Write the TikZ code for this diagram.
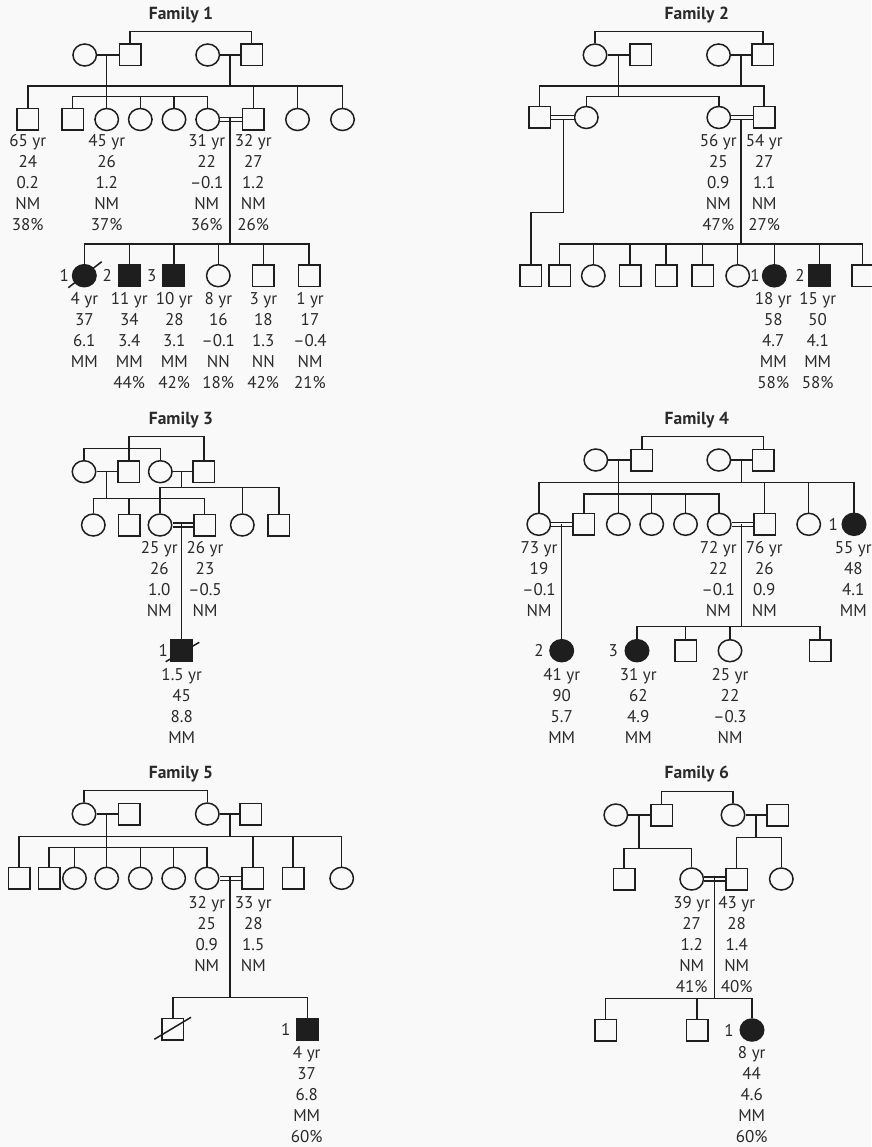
\documentclass[tikz,border=0pt]{standalone}
\usepackage{fontspec}
\setmainfont{PT Sans}
\usetikzlibrary{shapes.geometric,calc}
\definecolor{ink}{HTML}{1E1E1E}
\definecolor{textink}{HTML}{2A2A2A}
\definecolor{paper}{HTML}{F9F9F9}
\tikzset{
  pl/.style={line width=1.5pt, draw=ink},
  mal/.style={pl, rectangle, minimum size=21.5pt, inner sep=0pt},
  fem/.style={pl, ellipse, minimum width=23.5pt, minimum height=22pt, inner sep=0pt},
  aff/.style={fill=ink},
  txt/.style={font=\fontsize{17}{20}\selectfont, text=textink, inner sep=0pt},
  ttl/.style={font=\fontsize{17.5}{20}\selectfont\bfseries, text=textink, inner sep=0pt, anchor=base},
  marr/.style={draw=ink, line width=1.3pt, double=paper, double distance=2.8pt},
}
% column of measurements under an individual
\newcommand\info[4]{\foreach \t [count=\i from 0] in {#4}{\node[txt,anchor=base] (#1d\i) at (#2,{#3+21*\i}) {\t};}}
% vertical drop from a child to its sibship line
\newcommand\drop[2]{\draw[pl] (#1.north) -- (#1.north |- #2);}
\begin{document}
\begin{tikzpicture}[x=1pt,y=-1pt]
\useasboundingbox (0,0) rectangle (871,1147);
\fill[paper] (0,0) rectangle (871,1147);

%% ---------------- Family 1 ----------------
\node[ttl] (t1) at (181,19.3) {Family 1};
\node[fem] (f1a) at (84.7,55) {};
\node[mal] (f1b) at (130,55) {};
\node[fem] (f1c) at (207.7,55) {};
\node[mal] (f1d) at (251.7,55) {};
\draw[pl] (f1a) -- (f1b);
\draw[pl] (f1c) -- (f1d);
\coordinate (f1top) at (190,31.7);
\draw[pl] (f1b.north) |- (f1top) -| (f1d.north);
\node[mal] (f1e) at (27.8,119.5) {};
\node[mal] (f1f) at (72.7,119.5) {};
\node[fem] (f1g) at (106.7,119.5) {};
\node[fem] (f1h) at (140.3,119.5) {};
\node[fem] (f1i) at (174,119.5) {};
\node[fem] (f1j) at (207.7,119.5) {};
\node[mal] (f1k) at (253.3,119.5) {};
\node[fem] (f1l) at (297.5,119.5) {};
\node[fem] (f1m) at (342.5,119.5) {};
\coordinate (f1ab) at (106.7,55);
\coordinate (f1s1) at (106.7,96.7);
\draw[pl] (f1ab) -- (f1g.north);
\draw[pl] (f1f.north) |- (f1s1) -| (f1j.north);
\drop{f1h}{f1s1} \drop{f1i}{f1s1}
\coordinate (f1cd) at (230,55);
\coordinate (f1s2) at (230,86);
\draw[pl] (f1cd) -- (f1s2);
\draw[pl] (f1e.north) |- (f1s2) -| (f1m.north);
\drop{f1k}{f1s2} \drop{f1l}{f1s2}
\draw[marr] (f1j) -- (f1k);
\coordinate (f1jk) at (230,117.5);
\coordinate (f1s3) at (230,244);
\draw[pl] (f1jk) -- (f1s3);
\node[fem,aff] (f1n) at (84.3,275.7) {};
\node[mal,aff] (f1o) at (129.3,275.7) {};
\node[mal,aff] (f1p) at (173.8,275.7) {};
\node[fem] (f1q) at (218.3,275.7) {};
\node[mal] (f1r) at (263.3,275.7) {};
\node[mal] (f1s) at (309,275.7) {};
\draw[pl] (f1n.north) |- (f1s3) -| (f1s.north);
\drop{f1o}{f1s3} \drop{f1p}{f1s3} \drop{f1q}{f1s3} \drop{f1r}{f1s3}
\draw[pl] ($(f1n)+(-16,12)$) -- ($(f1n)+(17.4,-14)$);
\node[txt] (f1no1) at (64.3,275.7) {1};
\node[txt] (f1no2) at (107.3,275.7) {2};
\node[txt] (f1no3) at (151.7,275.7) {3};
\info{f1e}{27.8}{146.7}{65 yr,24,0.2,NM,38\%}
\info{f1g}{106.7}{146.7}{45 yr,26,1.2,NM,37\%}
\info{f1j}{206.7}{146.7}{31 yr,22,–0.1,NM,36\%}
\info{f1k}{253.3}{146.7}{32 yr,27,1.2,NM,26\%}
\info{f1n}{84.3}{304}{4 yr,37,6.1,MM}
\info{f1o}{129.3}{304}{11 yr,34,3.4,MM,44\%}
\info{f1p}{174.3}{304}{10 yr,28,3.1,MM,42\%}
\info{f1q}{218.3}{304}{8 yr,16,–0.1,NN,18\%}
\info{f1r}{263.3}{304}{3 yr,18,1.3,NN,42\%}
\info{f1s}{310}{304}{1 yr,17,–0.4,NM,21\%}

%% ---------------- Family 2 ----------------
\node[ttl] (t2) at (696.8,19.3) {Family 2};
\node[fem] (f2a) at (595,55) {};
\node[mal] (f2b) at (640.8,55) {};
\node[fem] (f2c) at (718.5,55) {};
\node[mal] (f2d) at (762.8,55) {};
\draw[pl] (f2a) -- (f2b);
\draw[pl] (f2c) -- (f2d);
\coordinate (f2top) at (680,31.7);
\draw[pl] (f2a.north) |- (f2top) -| (f2d.north);
\node[mal] (f2e) at (539.5,117.5) {};
\node[fem] (f2f) at (586.3,117.5) {};
\node[fem] (f2g) at (718.8,117.5) {};
\node[mal] (f2h) at (764.2,117.5) {};
\coordinate (f2ab) at (618.3,55);
\coordinate (f2s1) at (618.3,96.7);
\draw[pl] (f2ab) -- (f2s1);
\draw[pl] (f2f.north) |- (f2s1) -| (f2g.north);
\coordinate (f2cd) at (741,55);
\coordinate (f2s2) at (741,86);
\draw[pl] (f2cd) -- (f2s2);
\draw[pl] (f2e.north) |- (f2s2) -| (f2h.north);
\draw[marr] (f2e) -- (f2f);
\draw[marr] (f2g) -- (f2h);
\node[mal] (f2i) at (530.8,275.8) {};
\node[mal] (f2j) at (559.7,275.8) {};
\node[fem] (f2k) at (593.3,275.8) {};
\node[mal] (f2l) at (630,275.8) {};
\node[mal] (f2m) at (666,275.8) {};
\node[mal] (f2n) at (702.7,275.8) {};
\node[fem] (f2o) at (737.7,275.8) {};
\node[fem,aff] (f2p) at (774.3,275.8) {};
\node[mal,aff] (f2q) at (819.3,275.8) {};
\node[mal] (f2r) at (862.7,275.8) {};
\coordinate (f2ef) at (563.3,119);
\coordinate (f2bend) at (563.3,212.3);
\draw[pl] (f2ef) -- (f2bend) -| (f2i.north);
\coordinate (f2gh) at (741,119);
\coordinate (f2s3) at (741,244);
\draw[pl] (f2gh) -- (f2s3);
\draw[pl] (f2j.north) |- (f2s3) -| (f2r.north);
\drop{f2k}{f2s3} \drop{f2l}{f2s3} \drop{f2m}{f2s3} \drop{f2n}{f2s3}
\drop{f2o}{f2s3} \drop{f2p}{f2s3} \drop{f2q}{f2s3}
\node[txt] (f2no1) at (755,275.8) {1};
\node[txt] (f2no2) at (800,275.8) {2};
\info{f2g}{718.3}{146.7}{56 yr,25,0.9,NM,47\%}
\info{f2h}{764.2}{146.7}{54 yr,27,1.1,NM,27\%}
\info{f2p}{773.3}{304}{18 yr,58,4.7,MM,58\%}
\info{f2q}{817.7}{304}{15 yr,50,4.1,MM,58\%}

%% ---------------- Family 3 ----------------
\node[ttl] (t3) at (181,424) {Family 3};
\node[fem] (f3a) at (84,471.7) {};
\node[mal] (f3b) at (128.8,471.7) {};
\node[fem] (f3c) at (160.3,471.7) {};
\node[mal] (f3d) at (203.8,471.7) {};
\draw[pl] (f3a) -- (f3b);
\draw[pl] (f3c) -- (f3d);
\coordinate (f3t1) at (120,448.3);
\coordinate (f3t2) at (166,436.7);
\draw[pl] (f3a.north) |- (f3t1) -| (f3c.north);
\draw[pl] (f3b.north) |- (f3t2) -| (f3d.north);
\node[fem] (f3e) at (93.3,525) {};
\node[mal] (f3f) at (129.2,525) {};
\node[fem] (f3g) at (160,525) {};
\node[mal] (f3h) at (204.5,525) {};
\node[fem] (f3i) at (242.3,525) {};
\node[mal] (f3j) at (278.8,525) {};
\coordinate (f3ab) at (106.7,471.7);
\coordinate (f3s1) at (106.7,498.3);
\draw[pl] (f3ab) -- (f3s1);
\draw[pl] (f3e.north) |- (f3s1) -| (f3h.north);
\drop{f3f}{f3s1}
\coordinate (f3cd) at (181.7,471.7);
\coordinate (f3s2) at (181.7,487.3);
\draw[pl] (f3cd) -- (f3s2);
\draw[pl] (f3g.north) |- (f3s2) -| (f3j.north);
\drop{f3i}{f3s2}
\draw[marr] (f3g) -- (f3h);
\node[mal,aff] (f3k) at (181.7,650.7) {};
\coordinate (f3gh) at (181.7,524);
\draw[pl] (f3gh) -- (f3k.north);
\draw[pl] ($(f3k)+(-16,11)$) -- ($(f3k)+(17.6,-8.4)$);
\node[txt] (f3no1) at (163.3,650.7) {1};
\info{f3g}{159.3}{553.3}{25 yr,26,1.0,NM}
\info{f3h}{205}{553.3}{26 yr,23,–0.5,NM}
\info{f3k}{181.7}{680}{1.5 yr,45,8.8,MM}

%% ---------------- Family 4 ----------------
\node[ttl] (t4) at (696.8,424) {Family 4};
\node[fem] (f4a) at (595.8,460) {};
\node[mal] (f4b) at (641.8,460) {};
\node[fem] (f4c) at (718.8,460) {};
\node[mal] (f4d) at (763.3,460) {};
\draw[pl] (f4a) -- (f4b);
\draw[pl] (f4c) -- (f4d);
\coordinate (f4top) at (700,436.7);
\draw[pl] (f4b.north) |- (f4top) -| (f4d.north);
\node[fem] (f4e) at (538.8,524.3) {};
\node[mal] (f4f) at (583.8,524.3) {};
\node[fem] (f4g) at (618.3,524.3) {};
\node[fem] (f4h) at (651.7,524.3) {};
\node[fem] (f4i) at (685.5,524.3) {};
\node[fem] (f4j) at (719.2,524.3) {};
\node[mal] (f4k) at (764.5,524.3) {};
\node[fem] (f4l) at (808.7,524.3) {};
\node[fem,aff] (f4m) at (854,524.3) {};
\coordinate (f4ab) at (618.3,460);
\coordinate (f4s1) at (618.3,494);
\draw[pl] (f4ab) -- (f4g.north);
\draw[pl] (f4f.north) |- (f4s1) -| (f4j.north);
\drop{f4h}{f4s1} \drop{f4i}{f4s1}
\coordinate (f4cd) at (741.7,460);
\coordinate (f4s2) at (741.7,482.7);
\draw[pl] (f4cd) -- (f4s2);
\draw[pl] (f4e.north) |- (f4s2) -| (f4m.north);
\drop{f4k}{f4s2} \drop{f4l}{f4s2}
\draw[marr] (f4e) -- (f4f);
\draw[marr] (f4j) -- (f4k);
\node[fem,aff] (f4n) at (561.7,650.7) {};
\node[fem,aff] (f4o) at (637,650.7) {};
\node[mal] (f4p) at (685.5,650.7) {};
\node[fem] (f4q) at (730,650.7) {};
\node[mal] (f4r) at (820,650.7) {};
\coordinate (f4ef) at (561.7,524.3);
\draw[pl] (f4ef) -- (f4n.north);
\coordinate (f4jk) at (741.7,524.3);
\coordinate (f4s3) at (741.7,626.7);
\draw[pl] (f4jk) -- (f4s3);
\draw[pl] (f4o.north) |- (f4s3) -| (f4r.north);
\drop{f4p}{f4s3} \drop{f4q}{f4s3}
\node[txt] (f4no1) at (833.3,524.3) {1};
\node[txt] (f4no2) at (539,650.7) {2};
\node[txt] (f4no3) at (613.3,650.7) {3};
\info{f4e}{539}{553.3}{73 yr,19,–0.1,NM}
\info{f4j}{718.3}{553.3}{72 yr,22,–0.1,NM}
\info{f4k}{764.3}{553.3}{76 yr,26,0.9,NM}
\info{f4m}{853.3}{553.3}{55 yr,48,4.1,MM}
\info{f4n}{561.7}{680}{41 yr,90,5.7,MM}
\info{f4o}{638.3}{680}{31 yr,62,4.9,MM}
\info{f4q}{730}{680}{25 yr,22,–0.3,NM}

%% ---------------- Family 5 ----------------
\node[ttl] (t5) at (181,778.3) {Family 5};
\node[fem] (f5a) at (84,814) {};
\node[mal] (f5b) at (129.2,814) {};
\node[fem] (f5c) at (207.3,814) {};
\node[mal] (f5d) at (250.8,814) {};
\draw[pl] (f5a) -- (f5b);
\draw[pl] (f5c) -- (f5d);
\coordinate (f5top) at (150,790.7);
\draw[pl] (f5a.north) |- (f5top) -| (f5c.north);
\node[mal] (f5e) at (19.2,878.3) {};
\node[mal] (f5f) at (49.2,878.3) {};
\node[fem] (f5g) at (74.5,878.3) {};
\node[fem] (f5h) at (106.7,878.3) {};
\node[fem] (f5i) at (140.3,878.3) {};
\node[fem] (f5j) at (173.7,878.3) {};
\node[fem] (f5k) at (207,878.3) {};
\node[mal] (f5l) at (252.8,878.3) {};
\node[mal] (f5m) at (293.2,878.3) {};
\node[fem] (f5n) at (341.7,878.3) {};
\coordinate (f5ab) at (106.7,814);
\coordinate (f5s1) at (106.7,847.3);
\draw[pl] (f5ab) -- (f5h.north);
\draw[pl] (f5f.north) |- (f5s1) -| (f5k.north);
\drop{f5g}{f5s1} \drop{f5i}{f5s1} \drop{f5j}{f5s1}
\coordinate (f5cd) at (230,814);
\coordinate (f5s2) at (230,836.7);
\draw[pl] (f5cd) -- (f5s2);
\draw[pl] (f5e.north) |- (f5s2) -| (f5n.north);
\drop{f5l}{f5s2} \drop{f5m}{f5s2}
\draw[marr] (f5k) -- (f5l);
\coordinate (f5kl) at (230,877.3);
\coordinate (f5s3) at (230,997.3);
\draw[pl] (f5kl) -- (f5s3);
\node[mal] (f5o) at (172.8,1029) {};
\node[mal,aff] (f5p) at (307.5,1029) {};
\draw[pl] (f5o.north) |- (f5s3) -| (f5p.north);
\draw[pl] ($(f5o)+(-18.5,10.3)$) -- ($(f5o)+(18.2,-11.7)$);
\node[txt] (f5no1) at (285.7,1029) {1};
\info{f5k}{206.7}{908.3}{32 yr,25,0.9,NM}
\info{f5l}{253.3}{908.3}{33 yr,28,1.5,NM}
\info{f5p}{306.7}{1058.3}{4 yr,37,6.8,MM,60\%}

%% ---------------- Family 6 ----------------
\node[ttl] (t6) at (696.8,778.3) {Family 6};
\node[fem] (f6a) at (615.8,815) {};
\node[mal] (f6b) at (661.5,815) {};
\node[fem] (f6c) at (733,815) {};
\node[mal] (f6d) at (777.8,815) {};
\draw[pl] (f6a) -- (f6b);
\draw[pl] (f6c) -- (f6d);
\coordinate (f6top) at (700,791.7);
\draw[pl] (f6b.north) |- (f6top) -| (f6c.north);
\node[mal] (f6e) at (624.2,879) {};
\node[fem] (f6f) at (691.7,879) {};
\node[mal] (f6g) at (736.5,879) {};
\node[fem] (f6h) at (781.3,879) {};
\coordinate (f6ab) at (639,815);
\coordinate (f6s1) at (639,848.3);
\draw[pl] (f6ab) -- (f6s1);
\draw[pl] (f6e.north) |- (f6s1) -| (f6f.north);
\coordinate (f6cd) at (756,815);
\coordinate (f6s2) at (756,837.7);
\draw[pl] (f6cd) -- (f6s2);
\draw[pl] (f6g.north) |- (f6s2) -| (f6h.north);
\draw[marr] (f6f) -- (f6g);
\coordinate (f6fg) at (714.3,878);
\coordinate (f6s3) at (714.3,998.3);
\draw[pl] (f6fg) -- (f6s3);
\node[mal] (f6i) at (605.5,1030) {};
\node[mal] (f6j) at (697.2,1030) {};
\node[fem,aff] (f6k) at (752,1030) {};
\draw[pl] (f6i.north) |- (f6s3) -| (f6k.north);
\drop{f6j}{f6s3}
\node[txt] (f6no1) at (729,1030) {1};
\info{f6f}{691.7}{908.3}{39 yr,27,1.2,NM,41\%}
\info{f6g}{736.7}{908.3}{43 yr,28,1.4,NM,40\%}
\info{f6k}{751.7}{1058.3}{8 yr,44,4.6,MM,60\%}
\end{tikzpicture}
\end{document}
